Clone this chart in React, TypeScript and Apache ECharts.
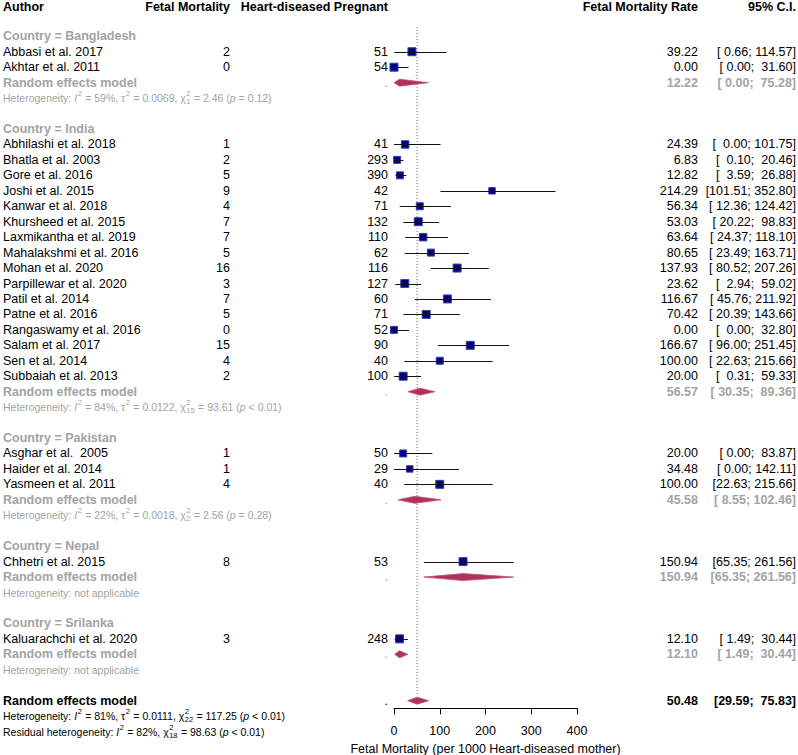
import React, { useEffect, useRef } from 'react';
import * as echarts from 'echarts';

// ---------- data ----------
const authors = [
  'Abbasi et al. 2017', 'Akhtar et al. 2011',
  'Abhilashi et al. 2018', 'Bhatla et al. 2003', 'Gore et al. 2016', 'Joshi et al. 2015',
  'Kanwar et al. 2018', 'Khursheed et al. 2015', 'Laxmikantha et al. 2019', 'Mahalakshmi et al. 2016',
  'Mohan et al. 2020', 'Parpillewar et al. 2020', 'Patil et al. 2014', 'Patne et al. 2016',
  'Rangaswamy et al. 2016', 'Salam et al. 2017', 'Sen et al. 2014', 'Subbaiah et al. 2013',
  'Asghar et al.\u00A0 2005', 'Haider et al. 2014', 'Yasmeen et al. 2011',
  'Chhetri et al. 2015',
  'Kaluarachchi et al. 2020',
];
const events = [2, 0, 1, 2, 5, 9, 4, 7, 7, 5, 16, 3, 7, 5, 0, 15, 4, 2, 1, 1, 4, 8, 3];
const totals = [51, 54, 41, 293, 390, 42, 71, 132, 110, 62, 116, 127, 60, 71, 52, 90, 40, 100, 50, 29, 40, 53, 248];
const rates = [39.22, 0.0, 24.39, 6.83, 12.82, 214.29, 56.34, 53.03, 63.64, 80.65, 137.93, 23.62, 116.67, 70.42, 0.0, 166.67, 100.0, 20.0, 20.0, 34.48, 100.0, 150.94, 12.1];
const lowers = [0.66, 0.0, 0.0, 0.1, 3.59, 101.51, 12.36, 20.22, 24.37, 23.49, 80.52, 2.94, 45.76, 20.39, 0.0, 96.0, 22.63, 0.31, 0.0, 0.0, 22.63, 65.35, 1.49];
const uppers = [114.57, 31.6, 101.75, 20.46, 26.88, 352.8, 124.42, 98.83, 118.1, 163.71, 207.26, 59.02, 211.92, 143.66, 32.8, 251.45, 215.66, 59.33, 83.87, 142.11, 215.66, 261.56, 30.44];
const weightSizes = [8, 8, 7.5, 7, 7, 6.5, 7, 8, 7.5, 7, 8, 8, 8, 8, 7, 8, 7, 8, 7, 6.5, 8, 8, 8];

const countries = ['Bangladesh', 'India', 'Pakistan', 'Nepal', 'Srilanka'];
const groupSizes = [2, 16, 3, 1, 1];
const groupEst = [12.22, 56.57, 45.58, 150.94, 12.1];
const groupLo = [0.0, 30.35, 8.55, 65.35, 1.49];
const groupHi = [75.28, 89.36, 102.46, 261.56, 30.44];
const groupI2 = ['59%', '84%', '22%', null, null];
const groupTau2 = ['0.0069', '0.0122', '0.0018', null, null];
const groupDf = ['1', '15', '2', null, null];
const groupQ = ['2.46', '93.61', '2.56', null, null];
const groupP = ['= 0.12', '< 0.01', '= 0.28', null, null];

const overallEst = 50.48;
const overallLo = 29.59;
const overallHi = 75.83;
const overallHet = { I2: '81%', tau2: '0.0111', df: '22', Q: '117.25', p: '< 0.01' };
const residualHet = { I2: '82%', df: '18', Q: '98.63', p: '< 0.01' };

const xTicks = [0, 100, 200, 300, 400];

// ---------- styling ----------
const FONT = "'Liberation Sans', Arial, Helvetica, sans-serif";
const FS = 12.5;
const HFS = 10.5;
const SFS = 7.5;
const GRAY = '#a3a3a3';
const BLACK = '#000000';
const COL = { author: 3, events: 230, total: 388, rate: 698, ci: 796 };
const NB = '\u00A0';

type Cell = { x: number; text: string; align: 'left' | 'right'; bold?: boolean; color: string; size?: number };
type Piece = { t?: string; it?: boolean; sup?: string; sub?: string };
type RowDef = { row: number; cells?: Cell[]; pieces?: Piece[]; color?: string };

const f2 = (v: number) => v.toFixed(2);
const pad = (s: string, w: number) => (s.length >= w ? s : NB.repeat(w - s.length) + s);
const ciText = (lo: number, hi: number, wl: number) => `[${pad(f2(lo), wl)};${NB}${pad(f2(hi), 6)}]`;

function hetPieces(label: string, I2: string | null, tau2: string | null, df: string | null, Q: string | null, p: string | null): Piece[] {
  if (I2 === null) return [{ t: label + 'not applicable' }];
  const out: Piece[] = [{ t: label }, { t: 'I', it: true }, { sup: '2' }, { t: ` = ${I2}, ` }];
  if (tau2 !== null) out.push({ t: 'τ' }, { sup: '2' }, { t: ` = ${tau2}, ` });
  out.push({ t: 'χ' }, { sup: '2', sub: df as string }, { t: ` = ${Q} (` }, { t: 'p', it: true }, { t: ` ${p})` });
  return out;
}

// ---------- build layout rows ----------
const rowsDef: RowDef[] = [];
const studyMarks: number[][] = [];
const diamonds: number[][] = [];

rowsDef.push({
  row: 0.1,
  cells: [
    { x: COL.author, text: 'Author', align: 'left', bold: true, color: BLACK },
    { x: COL.events, text: 'Fetal Mortality', align: 'right', bold: true, color: BLACK },
    { x: COL.total, text: 'Heart-diseased Pregnant', align: 'right', bold: true, color: BLACK },
    { x: COL.rate, text: 'Fetal Mortality Rate', align: 'right', bold: true, color: BLACK },
    { x: COL.ci, text: '95% C.I.', align: 'right', bold: true, color: BLACK },
  ],
});

let r = 2;
let si = 0;
countries.forEach((c, g) => {
  const n = groupSizes[g];
  let wl = 5;
  for (let k = si; k < si + n; k++) wl = Math.max(wl, f2(lowers[k]).length);
  rowsDef.push({ row: r, cells: [{ x: COL.author, text: `Country = ${c}`, align: 'left', bold: true, color: GRAY }] });
  r++;
  for (let k = si; k < si + n; k++) {
    rowsDef.push({
      row: r,
      cells: [
        { x: COL.author, text: authors[k], align: 'left', color: BLACK },
        { x: COL.events, text: String(events[k]), align: 'right', color: BLACK },
        { x: COL.total, text: String(totals[k]), align: 'right', color: BLACK },
        { x: COL.rate, text: f2(rates[k]), align: 'right', color: BLACK },
        { x: COL.ci, text: ciText(lowers[k], uppers[k], wl), align: 'right', color: BLACK },
      ],
    });
    studyMarks.push([rates[k], lowers[k], uppers[k], r, weightSizes[k]]);
    r++;
  }
  si += n;
  rowsDef.push({
    row: r,
    cells: [
      { x: COL.author, text: 'Random effects model', align: 'left', bold: true, color: GRAY },
      { x: COL.total, text: '.', align: 'right', color: GRAY },
      { x: COL.rate, text: f2(groupEst[g]), align: 'right', bold: true, color: GRAY },
      { x: COL.ci, text: ciText(groupLo[g], groupHi[g], wl), align: 'right', bold: true, color: GRAY },
    ],
  });
  diamonds.push([groupEst[g], groupLo[g], groupHi[g], r]);
  r++;
  rowsDef.push({ row: r, pieces: hetPieces('Heterogeneity: ', groupI2[g], groupTau2[g], groupDf[g], groupQ[g], groupP[g]), color: GRAY });
  r += 2;
});

rowsDef.push({
  row: r,
  cells: [
    { x: COL.author, text: 'Random effects model', align: 'left', bold: true, color: BLACK },
    { x: COL.total, text: '.', align: 'right', color: BLACK },
    { x: COL.rate, text: f2(overallEst), align: 'right', bold: true, color: BLACK },
    { x: COL.ci, text: ciText(overallLo, overallHi, 5), align: 'right', bold: true, color: BLACK },
  ],
});
diamonds.push([overallEst, overallLo, overallHi, r]);
const overallRow = r;
rowsDef.push({ row: r + 1, pieces: hetPieces('Heterogeneity: ', overallHet.I2, overallHet.tau2, overallHet.df, overallHet.Q, overallHet.p), color: BLACK });
rowsDef.push({ row: r + 2, pieces: hetPieces('Residual heterogeneity: ', residualHet.I2, null, residualHet.df, residualHet.Q, residualHet.p), color: BLACK });

// ---------- text measuring ----------
let mctx: CanvasRenderingContext2D | null = null;
function measure(text: string, size: number, italic = false): number {
  if (!mctx) mctx = document.createElement('canvas').getContext('2d');
  if (!mctx) return text.length * size * 0.5;
  mctx.font = `${italic ? 'italic ' : ''}${size}px ${FONT}`;
  return mctx.measureText(text).width;
}

export default function App() {
  const ref = useRef<HTMLDivElement>(null);
  useEffect(() => {
    if (!ref.current) return;
    const chart = echarts.init(ref.current, null, { renderer: 'svg' });
    const option: any = {
      animation: false,
      backgroundColor: '#ffffff',
      grid: { left: 394, right: 221, top: 5.4, bottom: 46.6, containLabel: false, outerBoundsMode: 'none' },
      xAxis: {
        type: 'value',
        position: 'bottom',
        min: xTicks[0],
        max: xTicks[xTicks.length - 1],
        interval: 100,
        axisLine: { show: true, onZero: false, lineStyle: { color: '#000', width: 1 } },
        axisTick: { show: true, length: 6, lineStyle: { color: '#000', width: 1 } },
        axisLabel: { margin: 16, fontSize: FS, color: '#000', fontFamily: FONT },
        splitLine: { show: false },
        name: 'Fetal Mortality (per 1000 Heart-diseased mother)',
        nameLocation: 'middle',
        nameGap: 33,
        nameTextStyle: { fontSize: FS, color: '#000', fontFamily: FONT },
      },
      yAxis: {
        type: 'value',
        inverse: true,
        min: 0,
        max: 45.5,
        show: false,
      },
      series: [
        {
          type: 'custom',
          name: 'refline',
          silent: true,
          clip: false,
          data: [[overallEst, 1.4, overallRow - 0.3]],
          renderItem: (params: any, api: any) => {
            const a = api.coord([api.value(0), api.value(1)]);
            const b = api.coord([api.value(0), api.value(2)]);
            return {
              type: 'line',
              shape: { x1: a[0], y1: a[1], x2: b[0], y2: b[1] },
              style: { stroke: '#6e6e6e', lineWidth: 1, lineDash: [1, 2] },
            };
          },
        },
        {
          type: 'custom',
          name: 'studies',
          clip: false,
          data: studyMarks,
          renderItem: (params: any, api: any) => {
            const est = api.value(0), lo = api.value(1), hi = api.value(2), row = api.value(3), sz = api.value(4);
            const pe = api.coord([est, row]);
            const pl = api.coord([lo, row]);
            const ph = api.coord([hi, row]);
            const y = Math.round(pe[1]) + 0.5;
            return {
              type: 'group',
              children: [
                { type: 'rect', shape: { x: pe[0] - sz / 2, y: pe[1] - sz / 2, width: sz, height: sz }, style: { fill: '#000080', stroke: '#3c3ca8', lineWidth: 1 } },
                { type: 'line', shape: { x1: pl[0], y1: y, x2: ph[0], y2: y }, style: { stroke: '#111', lineWidth: 1 } },
              ],
            };
          },
        },
        {
          type: 'custom',
          name: 'diamonds',
          clip: false,
          data: diamonds,
          renderItem: (params: any, api: any) => {
            const row = api.value(3);
            const pe = api.coord([api.value(0), row]);
            const pl = api.coord([api.value(1), row]);
            const ph = api.coord([api.value(2), row]);
            const h = 3.5;
            return {
              type: 'polygon',
              shape: { points: [[pl[0], pe[1]], [pe[0], pe[1] - h], [ph[0], pe[1]], [pe[0], pe[1] + h]] },
              style: { fill: '#b03060', stroke: '#c0507a', lineWidth: 0.8 },
            };
          },
        },
        {
          type: 'custom',
          name: 'table',
          clip: false,
          silent: true,
          data: rowsDef.map((d) => [0, d.row]),
          renderItem: (params: any, api: any) => {
            const def = rowsDef[params.dataIndex];
            const y = api.coord([0, api.value(1)])[1];
            const children: any[] = [];
            if (def.cells) {
              def.cells.forEach((c) => {
                children.push({
                  type: 'text',
                  x: c.x,
                  y,
                  style: {
                    text: c.text,
                    fill: c.color,
                    fontSize: c.size || FS,
                    fontFamily: FONT,
                    fontWeight: c.bold ? 'bold' : 'normal',
                    align: c.align,
                    verticalAlign: 'middle',
                  },
                });
              });
            }
            if (def.pieces) {
              let x = COL.author;
              const col = def.color || GRAY;
              def.pieces.forEach((p) => {
                if (p.t !== undefined) {
                  const txt = p.t.replace(/ /g, NB);
                  children.push({
                    type: 'text', x, y,
                    style: { text: txt, fill: col, fontSize: HFS, fontFamily: FONT, fontStyle: p.it ? 'italic' : 'normal', align: 'left', verticalAlign: 'middle' },
                  });
                  x += measure(txt, HFS, !!p.it);
                } else {
                  let w = 0;
                  if (p.sup) {
                    children.push({
                      type: 'text', x: x + 0.5, y: y - 4.5,
                      style: { text: p.sup, fill: col, fontSize: SFS, fontFamily: FONT, align: 'left', verticalAlign: 'middle' },
                    });
                    w = Math.max(w, measure(p.sup, SFS));
                  }
                  if (p.sub) {
                    children.push({
                      type: 'text', x: x + 0.5, y: y + 3.5,
                      style: { text: p.sub, fill: col, fontSize: SFS, fontFamily: FONT, align: 'left', verticalAlign: 'middle' },
                    });
                    w = Math.max(w, measure(p.sub, SFS));
                  }
                  x += w + 1;
                }
              });
            }
            return { type: 'group', children };
          },
        },
      ],
    };
    chart.setOption(option);
    return () => chart.dispose();
  }, []);
  return <div ref={ref} style={{ position: 'fixed', left: 0, top: 0, width: 798, height: 755, background: '#fff' }} />;
}
